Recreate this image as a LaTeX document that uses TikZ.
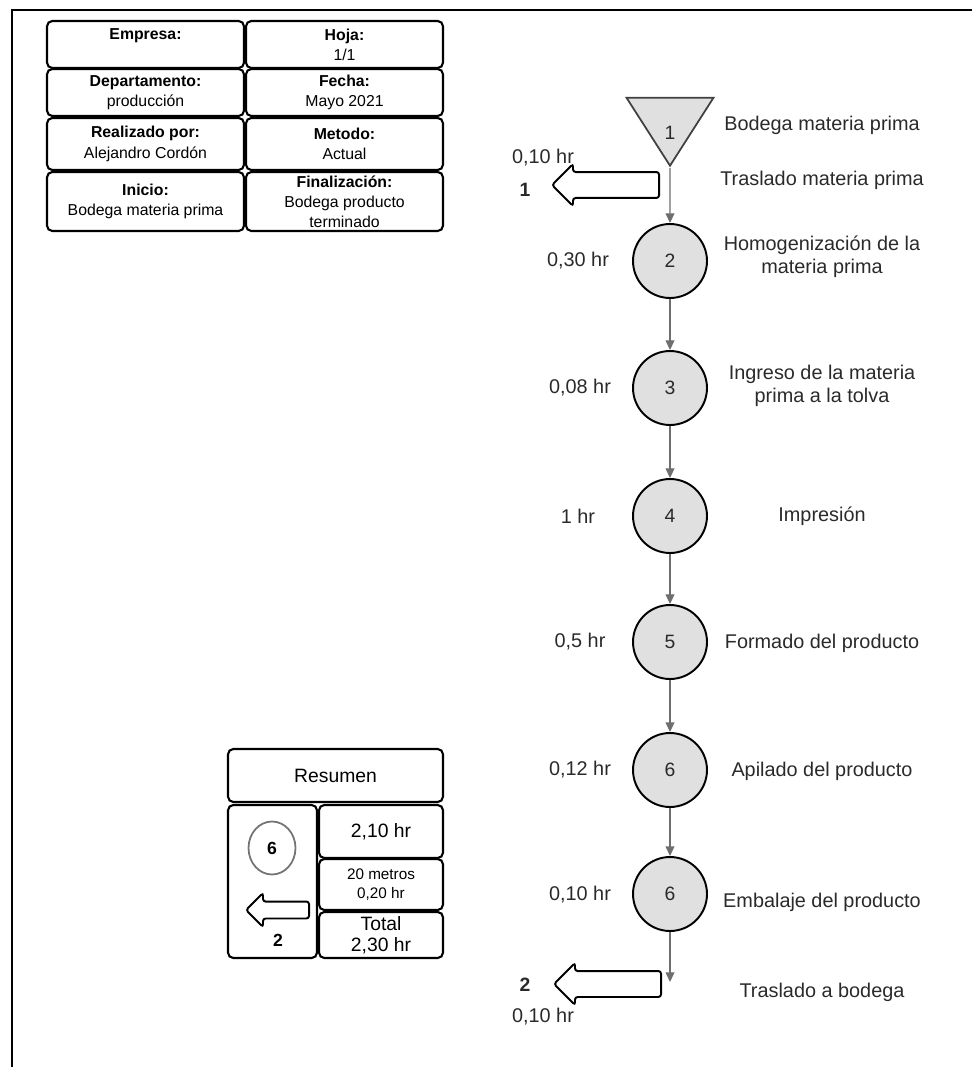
\documentclass[tikz,border=0pt]{standalone}
\usepackage{fontspec}
\setmainfont{Liberation Sans}
\usetikzlibrary{shapes.geometric,shapes.arrows,arrows.meta}
\definecolor{opfill}{HTML}{E0E0E0}
\definecolor{linegray}{HTML}{6E6E6E}
\definecolor{txt}{HTML}{2A2A2A}
\begin{document}
\begin{tikzpicture}[x=0.02cm,y=-0.02cm,
    cell/.style={draw=black,line width=1.2pt,rounded corners=3pt,inner sep=0pt,
      align=center,text=black,font=\fontsize{9}{11.5}\selectfont},
    op/.style={circle,draw=black,line width=1.1pt,fill=opfill,minimum size=1.48cm,
      inner sep=0pt,text=txt,font=\fontsize{11}{13}\selectfont},
    store/.style={isosceles triangle,isosceles triangle stretches,shape border rotate=-90,
      draw=black!75,line width=1pt,fill=opfill,minimum width=1.74cm,minimum height=1.36cm,
      inner sep=0pt,text=txt,font=\fontsize{11}{13}\selectfont},
    move/.style={single arrow,shape border rotate=180,draw=black,line width=1.1pt,
      fill=white,rounded corners=1.5pt,inner sep=0.24cm,single arrow head extend=0.16cm,
      minimum height=2.14cm},
    desc/.style={text=txt,align=center,font=\fontsize{11.3}{13}\selectfont},
    time/.style={text=txt,font=\fontsize{11.3}{13}\selectfont}]
  \useasboundingbox (0,0) rectangle (972,1067);
  \draw[line width=1.7pt] (972,10) -- (12,10) -- (12,1067);
  % header
  \draw
    (145.5,44.5) node[cell,minimum width=3.94cm,minimum height=0.94cm] (emp){\textbf{Empresa:}\\\mbox{}}
    (344.5,44.5) node[cell,minimum width=3.94cm,minimum height=0.94cm] (hoja){\textbf{Hoja:}\\1/1}
    (145.5,92.5) node[cell,minimum width=3.94cm,minimum height=0.94cm] (dep){\textbf{Departamento:}\\producción}
    (344.5,92.5) node[cell,minimum width=3.94cm,minimum height=0.94cm] (fecha){\textbf{Fecha:}\\Mayo 2021}
    (145.5,144) node[cell,minimum width=3.94cm,minimum height=1.04cm] (real){\textbf{Realizado por:}\\Alejandro Cordón}
    (344.5,144) node[cell,minimum width=3.94cm,minimum height=1.04cm] (met){\textbf{Metodo:}\\Actual}
    (145.5,201.5) node[cell,minimum width=3.94cm,minimum height=1.18cm] (ini){\textbf{Inicio:}\\Bodega materia prima}
    (344.5,201.5) node[cell,minimum width=3.94cm,minimum height=1.18cm] (fin){\textbf{Finalización:}\\Bodega producto\\terminado};
  % process
  \draw
    (670,168) node[store,anchor=apex] (1){\smash{\raisebox{-0.42cm}{1}}}
    (670,261) node[op] (2){2}
    (670,388) node[op] (3){3}
    (670,516) node[op] (4){4}
    (670,642) node[op] (5){5}
    (670,770) node[op] (6){6}
    (670,894) node[op] (7){6}
    (660,185) node[move,anchor=tail] (t1){}
    (662,984) node[move,anchor=tail] (t2){};
  \coordinate (end) at (670,982);
  \begin{scope}[linegray,line width=0.7pt,-{Triangle[width=5pt,length=5.5pt]}]
    \draw (1) to (2);
    \draw (2) to (3);
    \draw (3) to (4);
    \draw (4) to (5);
    \draw (5) to (6);
    \draw (6) to (7);
    \draw (7) to (end);
  \end{scope}
  \draw
    (543,158) node[time] (tt1){0,10 hr}
    (525,190) node[time,font=\fontsize{11}{13}\bfseries] (n1){1}
    (578,261) node[time] (tt2){0,30 hr}
    (580,388) node[time] (tt3){0,08 hr}
    (578,516) node[time] (tt4){1 hr}
    (580,642) node[time] (tt5){0,5 hr}
    (580,770) node[time] (tt6){0,12 hr}
    (580,895) node[time] (tt7){0,10 hr}
    (525,985) node[time,font=\fontsize{11}{13}\bfseries] (n2){2}
    (543,1017) node[time] (tt8){0,10 hr};
  \draw
    (822,125) node[desc] (d1){Bodega materia prima}
    (822,180) node[desc] (d2){Traslado materia prima}
    (822,257) node[desc] (d3){Homogenización de la\\materia prima}
    (822,386) node[desc] (d4){Ingreso de la materia\\prima a la tolva}
    (822,516) node[desc] (d5){Impresión}
    (822,643) node[desc] (d6){Formado del producto}
    (822,771) node[desc] (d7){Apilado del producto}
    (822,902) node[desc] (d8){Embalaje del producto}
    (822,992) node[desc] (d9){Traslado a bodega};
  % summary
  \draw
    (335.5,775.5) node[cell,minimum width=4.3cm,minimum height=1.06cm,font=\fontsize{11}{13}\selectfont] (res){Resumen}
    (272.5,881.5) node[cell,minimum width=1.78cm,minimum height=3.06cm] (sl){}
    (381,831.5) node[cell,minimum width=2.48cm,minimum height=1.06cm,font=\fontsize{11}{13}\selectfont] (s1){2,10 hr}
    (381,884.5) node[cell,minimum width=2.48cm,minimum height=1.02cm,font=\fontsize{8.7}{10.5}\selectfont] (s2){20 metros\\0,20 hr}
    (381,935) node[cell,minimum width=2.48cm,minimum height=0.92cm,font=\fontsize{11}{12}\selectfont] (s3){Total\\2,30 hr}
    (272,848) node[ellipse,draw=black!55,line width=1pt,fill=white,minimum width=0.94cm,
      minimum height=1.06cm,inner sep=0pt,font=\fontsize{10}{12}\bfseries] (sop){6}
    (310,910) node[move,anchor=tail,inner sep=0.15cm,single arrow head extend=0.17cm,
      minimum height=1.26cm] (smove){}
    (278,940) node[font=\fontsize{10}{12}\bfseries] (sn){2};
\end{tikzpicture}
\end{document}
